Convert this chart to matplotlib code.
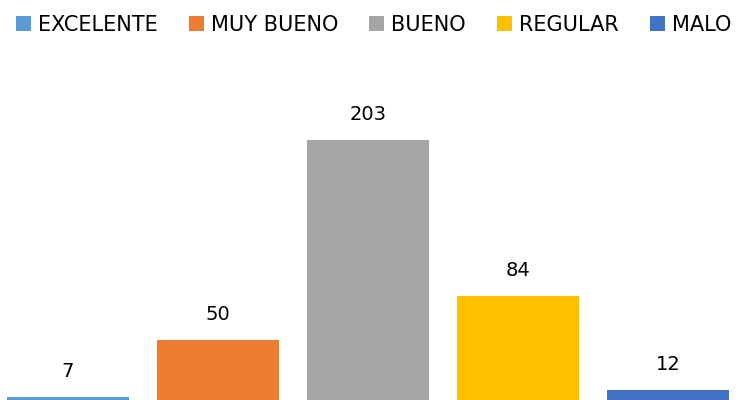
import matplotlib.pyplot as plt

plt.rcParams['font.family'] = ['DejaVu Sans']

categories = ['EXCELENTE', 'MUY BUENO', 'BUENO', 'REGULAR', 'MALO']
values = [7, 50, 203, 84, 12]
colors = ['#5B9BD5', '#ED7D31', '#A5A5A5', '#FFC000', '#4472C4']

fig = plt.figure(figsize=(7.53, 4.0), dpi=100)
ax = fig.add_axes([0, 0, 1, 1])

x = list(range(len(categories)))
bars = ax.bar(x, values, width=0.807, color=colors, label=categories)

# value labels above each bar
for xi, v in zip(x, values):
    ax.annotate(str(v), (xi, v), xytext=(0, 14.5), textcoords='offset points',
                ha='center', va='baseline', fontsize=14, color='#000000')

# baseline sits a few pixels below the bottom edge, as in the original
ax.set_xlim(-0.4533, 4.5667)
ax.set_ylim(4.58, 309.7)
ax.axis('off')

fig.legend(bars, categories, loc='upper left', bbox_to_anchor=(0.0212, 0.962),
           ncol=5, frameon=False, fontsize=15, handlelength=0.72, handleheight=0.72,
           handletextpad=0.34, columnspacing=1.49, borderaxespad=0, borderpad=0)

fig.savefig('out.png', dpi=100)
